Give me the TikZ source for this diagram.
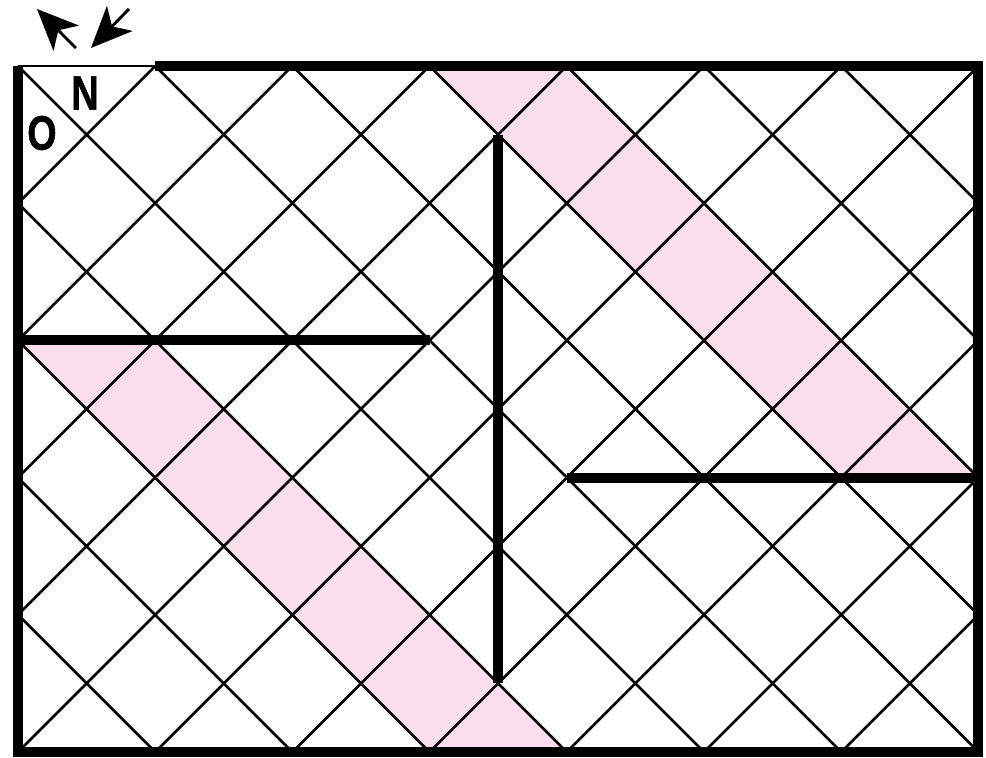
\documentclass[tikz,border=0pt]{standalone}
\usepackage{fontspec}
\newfontfamily\labelfont[FakeBold=1.2]{Liberation Sans Bold}
\usetikzlibrary{arrows.meta}
\definecolor{bandpink}{RGB}{250,222,235}

\begin{document}
\begin{tikzpicture}[
   wall/.style={line width=4.2pt, line join=miter},
   gridline/.style={line width=1.1pt},
   pointer/.style={line width=1.2pt, -{Stealth[length=6mm,width=5.2mm,inset=1.6mm]}},
   letter/.style={font=\labelfont\fontsize{20}{21}\selectfont, xscale=0.78, inner sep=0pt}]

   \useasboundingbox (-0.262,-0.087) rectangle (14.111,10.962);

   % pink bands
   \fill [bandpink] (6,10) -- (8,10) -- (14,4) -- (12,4) -- cycle;
   \fill [bandpink] (0,6) -- (2,6) -- (8,0) -- (6,0) -- cycle;

   % diagonal grid
   \begin{scope}
     \clip (0,0) rectangle (14,10);
     \foreach \c in {-10,-8,...,14}
        \draw [gridline] (\c,0) -- (\c+10,10);
     \foreach \c in {0,2,...,24}
        \draw [gridline] (\c,0) -- (\c-10,10);
   \end{scope}

   % border and walls
   \draw [gridline] (0,10) -- (2,10);
   \draw [wall] (0,10) -- (0,0) -- (14,0) -- (14,10) -- (2,10);
   \draw [wall] (0,6) -- (6,6);
   \draw [wall] (7,1) -- (7,9);
   \draw [wall] (8,4) -- (14,4);

   % direction arrows
   \coordinate (nwfrom) at (0.845,10.262);
   \coordinate (nwto) at (0.277,10.831);
   \coordinate (swfrom) at (1.618,10.831);
   \coordinate (swto) at (1.064,10.262);
   \draw [pointer] (nwfrom) -- (nwto);
   \draw [pointer] (swfrom) -- (swto);

   \node [letter] (north) at (0.977,9.606) {N};
   \node [letter] (west) at (0.35,9.023) {O};

\end{tikzpicture}
\end{document}
